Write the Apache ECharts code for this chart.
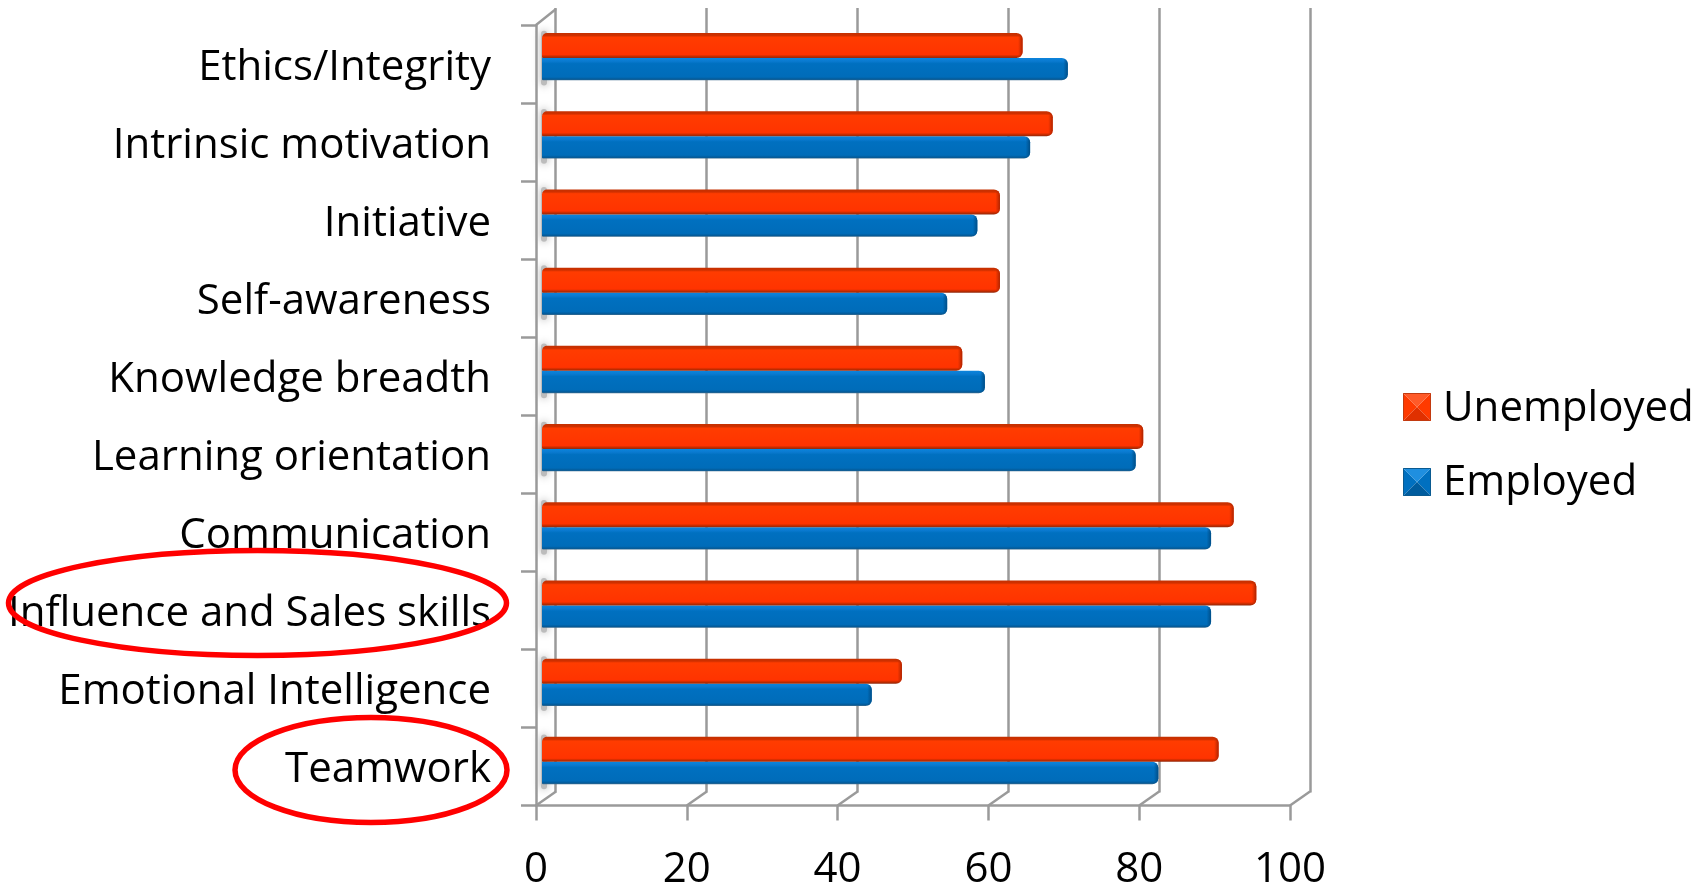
<!DOCTYPE html>
<html>
<head>
<meta charset="utf-8">
<title>Skills by employment status</title>
<script src="https://cdn.jsdelivr.net/npm/echarts@6/dist/echarts.min.js"></script>
<style>
  html, body { margin: 0; padding: 0; background: #fff; }
  #chart { width: 1705px; height: 886px; }
</style>
</head>
<body>
<div id="chart"></div>
<script>
// Categories run top to bottom; the y axes are inverted to keep that order.
const categories = [
  'Ethics/Integrity', 'Intrinsic motivation', 'Initiative', 'Self-awareness',
  'Knowledge breadth', 'Learning orientation', 'Communication',
  'Influence and Sales skills', 'Emotional Intelligence', 'Teamwork'
];
const unemployed = [64, 68, 61, 61, 56, 80, 92, 95, 48, 90];
const employed = [70, 65, 58, 54, 59, 79, 89, 89, 44, 82];
const xTicks = [0, 20, 40, 60, 80, 100];

const FONT = 'Open Sans';
const FONT_SIZE = 42;
const GRID_LINE = '#9a9a9a';
const DEPTH_X = 20, DEPTH_Y = -14;

const vGradient = (stops) => ({
  type: 'linear', x: 0, y: 0, x2: 0, y2: 1,
  colorStops: stops.map(([offset, color]) => ({ offset, color }))
});
const hGradient = (stops) => ({
  type: 'linear', x: 0, y: 0, x2: 1, y2: 0,
  colorStops: stops.map(([offset, color]) => ({ offset, color }))
});

// Bevelled bar: vertical shading plus a darker rounded cap at the value end.
function bevelBar(opts) {
  return function (params, api) {
    const end = api.coord([api.value(0), api.value(1)]);
    const start = api.coord([0, api.value(1)]);
    const band = api.size([0, 1])[1];
    const y = end[1] + band * opts.from;
    const h = band * opts.span;
    const x0 = start[0] + 2;
    const w = end[0] - x0;
    const r = opts.radius;
    return {
      type: 'group',
      children: [
        {
          type: 'rect',
          shape: { x: x0, y, width: w, height: h, r },
          style: { fill: vGradient(opts.body) }
        },
        {
          type: 'rect',
          shape: { x: end[0] - 9, y, width: 9, height: h, r: [0, r[1], r[2], 0] },
          style: { fill: hGradient([[0, opts.capClear], [0.5, opts.capClear], [1, opts.capDark]]) }
        }
      ]
    };
  };
}

const redBar = bevelBar({
  from: -0.3, span: 0.32, radius: [5, 6, 6, 1],
  body: [[0, '#c43000'], [0.1, '#cf3000'], [0.17, '#ff3c00'], [0.5, '#ff3800'], [0.86, '#ff3300'], [0.95, '#b82a00'], [1, '#8f2a10']],
  capClear: 'rgba(190,40,0,0)', capDark: 'rgba(170,35,0,1)'
});
const blueBar = bevelBar({
  from: 0.02, span: 0.285, radius: [0, 6, 6, 1],
  body: [[0, '#0b84dc'], [0.14, '#0a7ad0'], [0.25, '#0070c0'], [0.85, '#006cb9'], [0.95, '#045a98'], [1, '#3f6d8e']],
  capClear: 'rgba(0,80,140,0)', capDark: 'rgba(0,78,135,1)'
});

// Soft grey shade the bars leave on the side wall.
function wallShade(params, api) {
  const p = api.coord([0, api.value(1)]);
  const band = api.size([0, 1])[1];
  return {
    type: 'rect',
    shape: { x: p[0] + 1, y: p[1] - band * 0.33, width: 6, height: band * 0.7, r: 3 },
    style: { fill: '#bcbcbc', shadowBlur: 9, shadowColor: '#a4a4a4' }
  };
}

// Short receding stroke from each floor tick to the back wall.
function floorDiagonal(params, api) {
  const x = api.coord([api.value(0), 0])[0];
  const y = params.coordSys.y + params.coordSys.height;
  return {
    type: 'line',
    shape: { x1: x, y1: y, x2: x + DEPTH_X, y2: y + DEPTH_Y },
    style: { stroke: GRID_LINE, lineWidth: 2.5 }
  };
}
function wallTopDiagonal(params) {
  const x = params.coordSys.x, y = params.coordSys.y;
  return {
    type: 'line',
    shape: { x1: x, y1: y, x2: x + DEPTH_X, y2: y - 16 },
    style: { stroke: GRID_LINE, lineWidth: 2.5 }
  };
}

// Pyramid-bevelled legend swatch.
function swatch(x, y, s, light, dark, side, edge) {
  const c = [x + s / 2, y + s / 2];
  const tri = (a, b, fill) => ({
    type: 'polygon', z: 20, silent: true,
    shape: { points: [a, b, c] },
    style: { fill }
  });
  return [
    tri([x, y], [x, y + s], side),
    tri([x + s, y], [x + s, y + s], side),
    tri([x, y], [x + s, y], light),
    tri([x, y + s], [x + s, y + s], dark),
    {
      type: 'rect', z: 21, silent: true,
      shape: { x: x + 0.5, y: y + 0.5, width: s - 1, height: s - 1 },
      style: { fill: 'none', stroke: edge, lineWidth: 1 }
    }
  ];
}

const option = {
  backgroundColor: '#ffffff',
  animation: false,
  textStyle: { fontFamily: FONT },
  grid: [
    { left: 536, top: 25, width: 754, height: 780.5, outerBoundsMode: 'none' },  // front floor and side axes
    { left: 555, top: 8, width: 755, height: 784.5, outerBoundsMode: 'none' },   // back wall
    { left: 540, top: 17.4, width: 754, height: 782, outerBoundsMode: 'none' },  // bars, set halfway into the depth
    { left: 536, top: 29, width: 754, height: 780, outerBoundsMode: 'none' }     // category names
  ],
  xAxis: [
    {
      gridIndex: 0, type: 'value', min: 0, max: 100, interval: 20,
      axisLine: { show: true, lineStyle: { color: GRID_LINE, width: 2.5 } },
      axisTick: { show: true, length: 15, lineStyle: { color: GRID_LINE, width: 2.5 } },
      axisLabel: {
        show: true, margin: 44, color: '#000', fontFamily: FONT, fontSize: FONT_SIZE,
        customValues: xTicks
      },
      splitLine: { show: false }
    },
    {
      gridIndex: 1, type: 'value', min: 0, max: 100, interval: 20,
      axisLine: { show: false }, axisTick: { show: false }, axisLabel: { show: false },
      splitLine: { show: true, lineStyle: { color: GRID_LINE, width: 2.5 } }
    },
    { gridIndex: 2, type: 'value', min: 0, max: 100, interval: 20, show: false },
    { gridIndex: 3, type: 'value', min: 0, max: 100, interval: 20, show: false }
  ],
  yAxis: [
    {
      gridIndex: 0, type: 'category', data: categories, inverse: true,
      axisLine: { show: true, lineStyle: { color: GRID_LINE, width: 2.5 } },
      axisTick: { show: true, length: 15, lineStyle: { color: GRID_LINE, width: 2.5 } },
      axisLabel: { show: false },
      splitLine: { show: false }
    },
    { gridIndex: 1, type: 'category', data: categories, inverse: true, show: false },
    { gridIndex: 2, type: 'category', data: categories, inverse: true, show: false },
    {
      gridIndex: 3, type: 'category', data: categories, inverse: true,
      axisLine: { show: false }, axisTick: { show: false }, splitLine: { show: false },
      axisLabel: { show: true, margin: 45, color: '#000', fontFamily: FONT, fontSize: FONT_SIZE, interval: 0 }
    }
  ],
  legend: {
    orient: 'vertical', left: 1403, top: 388, padding: 0,
    itemWidth: 28, itemHeight: 28, itemGap: 32,
    icon: 'rect', selectedMode: false,
    itemStyle: { opacity: 0 },
    data: ['Unemployed', 'Employed'],
    textStyle: { fontFamily: FONT, fontSize: FONT_SIZE, color: '#000', padding: [0, 0, 0, 7] }
  },
  series: [
    {
      name: 'Wall shade', type: 'custom', xAxisIndex: 2, yAxisIndex: 2, z: 1, clip: false,
      encode: { x: 0, y: 1 }, silent: true,
      data: categories.map((c) => [0, c]), renderItem: wallShade
    },
    {
      name: 'Floor lines', type: 'custom', xAxisIndex: 0, yAxisIndex: 0, z: 2, clip: false,
      encode: { x: 0 }, silent: true,
      data: xTicks.map((v) => [v]), renderItem: floorDiagonal
    },
    {
      name: 'Wall top', type: 'custom', xAxisIndex: 0, yAxisIndex: 0, z: 2, clip: false,
      encode: { x: 0 }, silent: true,
      data: [[0]], renderItem: wallTopDiagonal
    },
    {
      name: 'Employed', type: 'custom', xAxisIndex: 2, yAxisIndex: 2, z: 5, clip: false,
      itemStyle: { color: '#0070c0' }, encode: { x: 0, y: 1 },
      data: categories.map((c, i) => [employed[i], c]), renderItem: blueBar
    },
    {
      name: 'Unemployed', type: 'custom', xAxisIndex: 2, yAxisIndex: 2, z: 6, clip: false,
      itemStyle: { color: '#ff3300' }, encode: { x: 0, y: 1 },
      data: categories.map((c, i) => [unemployed[i], c]), renderItem: redBar
    }
  ],
  graphic: [
    // Highlight rings around the two emphasised skills
    {
      type: 'ellipse', z: 30, silent: true,
      shape: { cx: 257.5, cy: 603, rx: 249, ry: 52.5 },
      style: { fill: 'none', stroke: '#ff0000', lineWidth: 5.5 }
    },
    {
      type: 'ellipse', z: 30, silent: true,
      shape: { cx: 371, cy: 770, rx: 136, ry: 52.5 },
      style: { fill: 'none', stroke: '#ff0000', lineWidth: 5.5 }
    },
    ...swatch(1403, 393, 28, '#ff5a28', '#e03000', '#ff3a00', '#c23a10'),
    ...swatch(1403, 468, 28, '#1f8fe0', '#005c9e', '#0070c0', '#0a5a90')
  ]
};

echarts.init(document.getElementById('chart'), null, { renderer: 'canvas' }).setOption(option);
</script>
</body>
</html>
